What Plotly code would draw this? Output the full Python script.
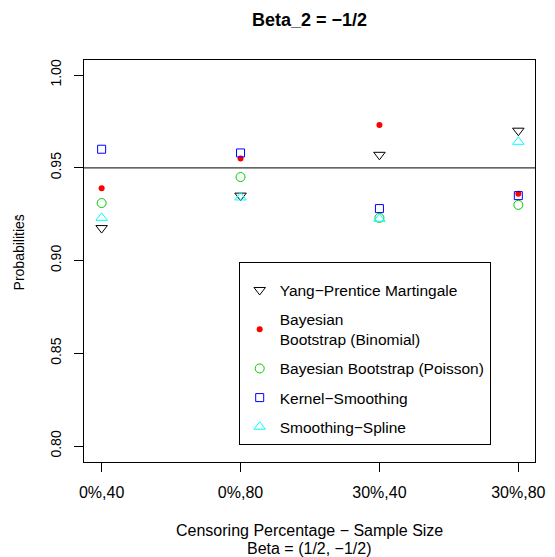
import plotly.graph_objects as go

categories = ["0%,40", "0%,80", "30%,40", "30%,80"]
yang_prentice = [0.9175, 0.935, 0.957, 0.970]
bb_binomial = [0.939, 0.955, 0.973, 0.936]
bb_poisson = [0.931, 0.945, 0.923, 0.930]
kernel_smoothing = [0.960, 0.958, 0.928, 0.935]
smoothing_spline = [0.923, 0.934, 0.9225, 0.964]
reference_level = 0.95
y_ticks = [0.80, 0.85, 0.90, 0.95, 1.00]

FONT = "Liberation Sans, Arial, sans-serif"

series = [
    ("Yang\u2212Prentice Martingale", yang_prentice,
     dict(symbol="triangle-down-open", size=10, color="black", line=dict(width=1))),
    ("Bayesian<br>Bootstrap (Binomial)", bb_binomial,
     dict(symbol="circle", size=6, color="red", line=dict(width=0))),
    ("Bayesian Bootstrap (Poisson)", bb_poisson,
     dict(symbol="circle-open", size=9, color="#00CD00", line=dict(width=1))),
    ("Kernel\u2212Smoothing", kernel_smoothing,
     dict(symbol="square-open", size=8, color="blue", line=dict(width=1))),
    ("Smoothing\u2212Spline", smoothing_spline,
     dict(symbol="triangle-up-open", size=10, color="cyan", line=dict(width=1))),
]

fig = go.Figure()
for i, (name, vals, mk) in enumerate(series):
    fig.add_trace(go.Scatter(
        x=categories, y=vals, mode="markers", name=name, marker=mk,
        legendgroup=f"g{i}",
    ))

fig.add_hline(y=reference_level, line=dict(color="#333333", width=1.3))

fig.update_layout(
    width=555, height=557,
    margin=dict(l=84, r=10, t=60, b=95),
    paper_bgcolor="white", plot_bgcolor="white",
    font=dict(family=FONT, color="black"),
    showlegend=True,
    legend=dict(
        x=0.343, y=0.4975, xanchor="left", yanchor="top",
        bordercolor="black", borderwidth=1, bgcolor="white",
        font=dict(size=15.5, family=FONT),
        tracegroupgap=6, traceorder="grouped",
        title=dict(text=" ", font=dict(size=8)),
        itemsizing="trace",
    ),
    xaxis=dict(
        type="category", range=[-0.127, 3.12],
        showgrid=False, zeroline=False,
        showline=True, mirror=True, linecolor="black", linewidth=1,
        ticks="outside", ticklen=9, tickcolor="black",
        tickfont=dict(size=16, family=FONT),
        ticklabelstandoff=7,
    ),
    yaxis=dict(
        range=[0.7914, 1.0081],
        tickvals=y_ticks, ticktext=[f"{v:.2f}" for v in y_ticks],
        showgrid=False, zeroline=False,
        showline=True, mirror=True, linecolor="black", linewidth=1,
        ticks="outside", ticklen=9, tickcolor="black",
        tickangle=-90,
        tickfont=dict(size=14, family=FONT),
        ticklabelstandoff=7,
    ),
    annotations=[
        dict(text="<b>Beta_2 = \u22121/2</b>", xref="paper", yref="paper",
             x=0.5, y=1 + (60 - 20) / 402, xanchor="center", yanchor="middle",
             showarrow=False, font=dict(size=18, family=FONT)),
        dict(text="Censoring Percentage \u2212 Sample Size", xref="paper", yref="paper",
             x=0.5, y=1 - (530 - 60) / 402, xanchor="center", yanchor="middle",
             showarrow=False, font=dict(size=16, family=FONT)),
        dict(text="Beta = (1/2, \u22121/2)", xref="paper", yref="paper",
             x=0.5, y=1 - (548 - 60) / 402, xanchor="center", yanchor="middle",
             showarrow=False, font=dict(size=16, family=FONT)),
        dict(text="Probabilities\u0304", xref="paper", yref="paper",
             x=-(84 - 18) / 461, y=1 - (252 - 60) / 402, xanchor="center", yanchor="middle",
             textangle=-90, showarrow=False, font=dict(size=14, family=FONT)),
    ],
)

fig.write_html("out.html")
